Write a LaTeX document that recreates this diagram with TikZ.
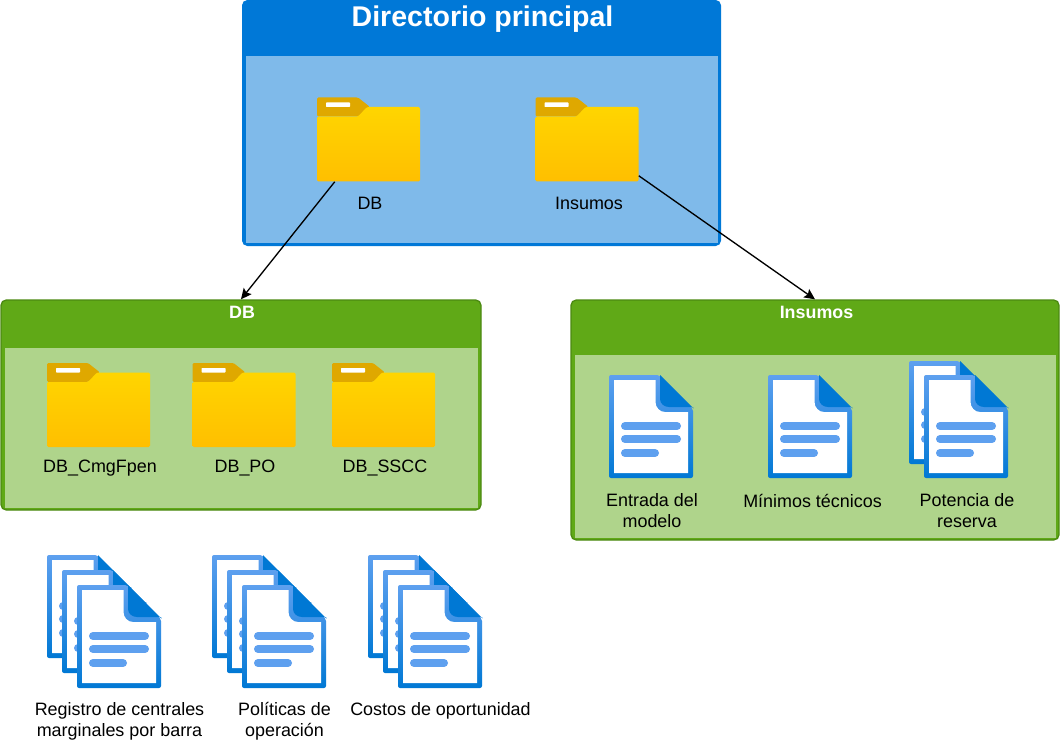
\documentclass[tikz,border=0pt]{standalone}
\usepackage{fontspec}
\setmainfont{Liberation Sans}
\usetikzlibrary{arrows.meta,calc}
\definecolor{blueD}{HTML}{0078D7}
\definecolor{blueL}{HTML}{7FBAEA}
\definecolor{greenD}{HTML}{60A917}
\definecolor{greenB}{HTML}{4C8A12}
\definecolor{greenL}{HTML}{AFD48B}
\definecolor{docTop}{HTML}{5EA0EF}
\definecolor{docBot}{HTML}{0078D4}
\definecolor{foldTop}{HTML}{FFD500}
\definecolor{foldBot}{HTML}{FFBF00}
\definecolor{foldTab}{HTML}{DFA800}
\tikzset{
  lbl/.style={inner sep=0pt,align=center,font=\fontsize{13.45}{15.75}\selectfont,text=black},
  hdr/.style={inner sep=0pt,font=\fontsize{13.4}{15}\selectfont\bfseries,text=white},
  ttl/.style={inner sep=0pt,font=\fontsize{21.4}{24}\selectfont\bfseries,text=white},
  iconbox/.style={inner sep=0pt,draw=none,fill=none,rectangle},
  arr/.style={-{Stealth[length=8pt,width=7.5pt,inset=1.5pt]},line width=1pt,black},
  docline/.style={docTop,line width=6pt,line cap=round},
}
\newcommand{\folder}[3]{%
  \node[iconbox,minimum width=77.25pt,minimum height=63pt] (#1) at (#2+51.5,#3+42) {};
  \begin{scope}[shift={(#2,#3)}]
    \fill[foldTab,rounded corners=1pt] (0,0) -- (41,0) -- (53,9.5) -- (41,19) -- (0,19) -- cycle;
    \shade[top color=foldTop,bottom color=foldBot,rounded corners=1pt]
      (0,84) -- (0,19) -- (41,19) -- (50,9.5) -- (103,9.5) -- (103,84) -- cycle;
    \fill[white,rounded corners=0.5pt] (9,5) rectangle (33,9.5);
  \end{scope}}
\newcommand{\docicon}[3]{%
  \node[iconbox,minimum width=63pt,minimum height=77.25pt] (#1) at (#2+42,#3+51.5) {};
  \begin{scope}[shift={(#2,#3)}]
    \shade[top color=docTop,bottom color=docBot,rounded corners=1.5pt]
      (0,0) -- (50,0) -- (84,34) -- (84,103) -- (0,103) -- cycle;
    \fill[white] (5,5) -- (46.5,5) -- (46.5,27) to[out=-90,in=180] (56,37) -- (79,37) -- (79,98) -- (5,98) -- cycle;
    \fill[docBot] (51,0) -- (84.5,33.5) -- (84,32) -- (60,32) to[out=180,in=-90] (51,24) -- cycle;
    \draw[docline] (16,51) -- (68,51);
    \draw[docline] (16,64) -- (68,64);
    \draw[docline] (16,78) -- (46,78);
  \end{scope}}
\begin{document}
\begin{tikzpicture}[x=0.75pt,y=-0.75pt]
\useasboundingbox (0,0) rectangle (1062,745);
\fill[white] (0,0) rectangle (1062,745);
% top container
\node[rectangle,inner sep=0pt,fill=blueD,rounded corners=4pt,minimum width=359.25pt,minimum height=184.5pt] (mainbox) at (481.5,123) {};
\node[rectangle,inner sep=0pt,fill=blueL,rounded corners=0pt,minimum width=354pt,minimum height=140.25pt] (mainbody) at (481.5,149.5) {};
\node[ttl] (maint) at (482.5,19) {Directorio principal};
% DB container
\node[rectangle,inner sep=0pt,fill=greenD,draw=greenB,line width=1pt,rounded corners=4pt,minimum width=360pt,minimum height=157.5pt] (dbbox) at (241,405) {};
\node[rectangle,inner sep=0pt,fill=greenL,minimum width=354.75pt,minimum height=120pt] (dbbody) at (241,427.5) {};
\node[hdr] (dbt) at (242,312) {DB};
% Insumos container
\node[rectangle,inner sep=0pt,fill=greenD,draw=greenB,line width=1pt,rounded corners=4pt,minimum width=366pt,minimum height=180pt] (insbox) at (815,420) {};
\node[rectangle,inner sep=0pt,fill=greenL,minimum width=360.75pt,minimum height=137.25pt] (insbody) at (815,446) {};
\node[hdr] (inst) at (816.5,312) {Insumos};
% top folders
\folder{fdb}{317}{97.5}
\folder{fins}{535.5}{97.5}
\node[lbl] (ldb) at (370,203) {DB};
\node[lbl] (lins) at (589,203) {Insumos};
% db folders
\folder{fa}{47}{363}
\folder{fb}{192.5}{363}
\folder{fc}{332}{363}
\node[lbl] (la) at (100,468.5) {DB\_CmgFpen};
\node[lbl] (lb) at (245,468.5) {DB\_PO};
\node[lbl] (lc) at (385,468.5) {DB\_SSCC};
% insumos docs
\docicon{da}{609}{375}
\docicon{db}{768}{375}
\docicon{dcb}{909}{361}
\docicon{dc}{924}{375}
\node[lbl] (lda) at (652,511) {Entrada del\\modelo};
\node[lbl] (ldb2) at (812.5,500.5) {Mínimos técnicos};
\node[lbl] (ldc) at (967,511) {Potencia de\\reserva};
% bottom docs
\docicon{e1}{47}{555}
\docicon{e2}{62}{570}
\docicon{e3}{77}{585}
\docicon{f1}{212}{555}
\docicon{f2}{227}{570}
\docicon{f3}{242}{585}
\docicon{g1}{368}{555}
\docicon{g2}{383}{570}
\docicon{g3}{398}{585}
\node[lbl] (le) at (119.5,721) {Registro de centrales\\marginales por barra};
\node[lbl] (lf) at (284.5,721) {Políticas de\\operación};
\node[lbl] (lg) at (440.5,710.5) {Costos de oportunidad};
% connectors
\coordinate (sdb) at ($(fdb.south west)+(18,0)$);
\coordinate (sins) at ($(fins.south east)+(0,-6)$);
\draw[arr] (sdb) -- (dbbox.north);
\draw[arr] (sins) -- (insbox.north);
\end{tikzpicture}
\end{document}
